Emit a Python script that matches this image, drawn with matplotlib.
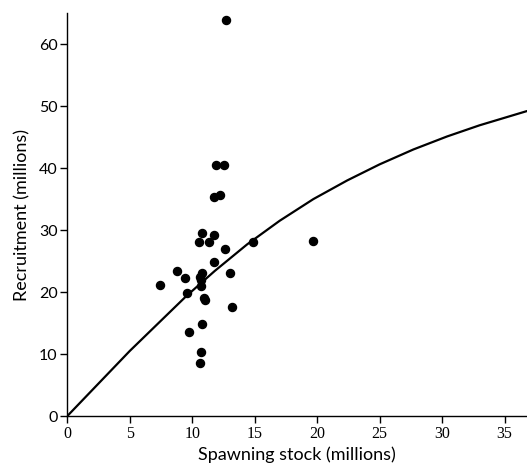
import matplotlib
matplotlib.use("Agg")
import matplotlib.pyplot as plt

# observed stock / recruitment pairs (millions)
stock = [12.67, 11.90, 12.56, 11.74, 12.22, 10.75, 11.76, 10.53, 11.33, 14.83,
         19.70, 12.59, 11.76, 8.75, 10.75, 10.65, 13.01, 9.41, 10.69, 7.44,
         10.69, 9.57, 10.93, 11.00, 13.15, 10.77, 9.73, 10.72, 10.64]
recruit = [63.9, 40.5, 40.5, 35.4, 35.6, 29.6, 29.2, 28.1, 28.1, 28.1,
           28.2, 27.0, 24.9, 23.4, 23.0, 22.5, 23.0, 22.2, 21.9, 21.1,
           20.9, 19.8, 19.1, 18.8, 17.6, 14.9, 13.5, 10.4, 8.6]

# fitted curve
curve_x = [0, 5, 9.5, 11.8, 14.4, 17.0, 19.7, 22.4, 25.0, 27.7, 30.4, 33.0, 36.8]
curve_y = [0, 10.5, 19.3, 23.4, 27.7, 31.5, 35.0, 38.0, 40.6, 43.0, 45.1, 46.9, 49.2]

xticks = [0, 5, 10, 15, 20, 25, 30, 35]
yticks = [0, 10, 20, 30, 40, 50, 60]

fig = plt.figure(figsize=(5.27, 4.68), dpi=100)
ax = fig.add_axes([0.1277, 0.111, 0.8723, 0.861])

ax.plot(curve_x, curve_y, color="black", lw=1.6, solid_capstyle="round",
        solid_joinstyle="round")
ax.plot(stock, recruit, "o", color="black", markersize=5.8, clip_on=False)

ax.set_xlim(0, 36.8)
ax.set_ylim(0, 65)
ax.set_xticks(xticks)
ax.set_yticks(yticks)
ax.set_xticklabels([str(t) for t in xticks], family="Liberation Serif", fontsize=11.5)
ax.set_yticklabels([str(t) for t in yticks], family="Lato", fontsize=11.5)
ax.tick_params(direction="out", length=5, width=1, colors="black", pad=2)

for side in ["top", "right"]:
    ax.spines[side].set_visible(False)
for side in ["left", "bottom"]:
    ax.spines[side].set_linewidth(1)

ax.set_xlabel("Spawning stock (millions)", family="Lato", fontsize=13, labelpad=3)
ax.set_ylabel("Recruitment (millions)", family="Lato", fontsize=13, labelpad=6)

fig.savefig("out.png", dpi=100)
